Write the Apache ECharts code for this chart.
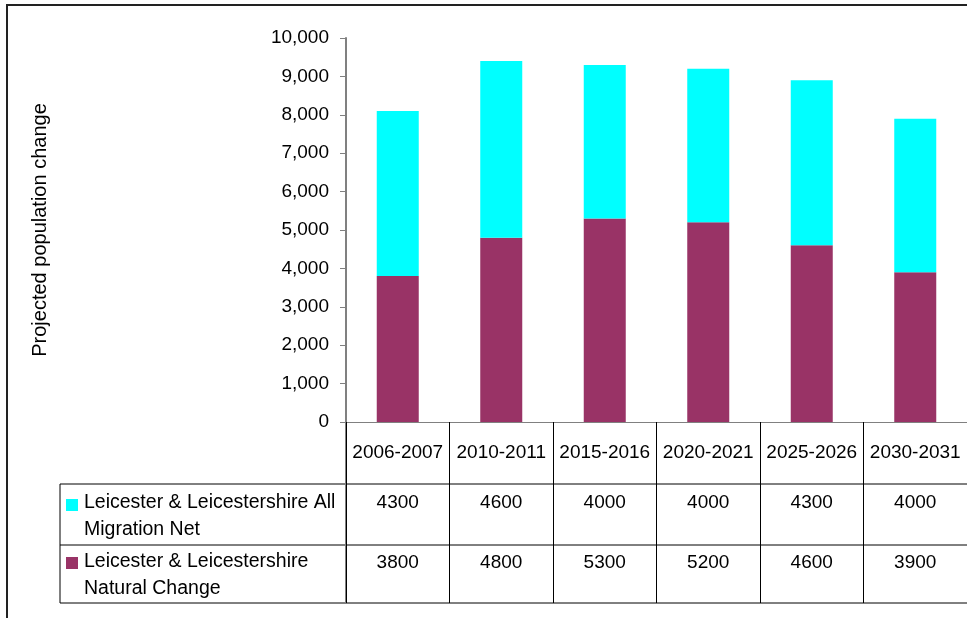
<!DOCTYPE html>
<html>
<head>
<meta charset="utf-8">
<script src="https://cdn.jsdelivr.net/npm/echarts@6/dist/echarts.min.js"></script>
<style>
html,body{margin:0;padding:0;background:#fff;}
#chart{width:967px;height:618px;}
</style>
</head>
<body>
<div id="chart"></div>
<script>
var categories = ['2006-2007','2010-2011','2015-2016','2020-2021','2025-2026','2030-2031'];
var migrationNet = [4300, 4600, 4000, 4000, 4300, 4000];
var naturalChange = [3800, 4800, 5300, 5200, 4600, 3900];
var seriesNames = ['Leicester & Leicestershire All\nMigration Net', 'Leicester & Leicestershire\nNatural Change'];
var yTicks = [0, 1000, 2000, 3000, 4000, 5000, 6000, 7000, 8000, 9000, 10000];

var FONT = '"Liberation Sans", Arial, sans-serif';
var FS = 19;
var COL_MIG = '#00FFFF';
var COL_NAT = '#993366';

var gridLeft = 346, gridTop = 38, gridW = 622, gridH = 384;
var axisY = gridTop + gridH; // 422
var rowY = [484, 545, 603];
var tableLeft = 60, tableRight = 968;

var chart = echarts.init(document.getElementById('chart'), null, {renderer: 'canvas'});

function fmt(v){ return String(v).replace(/\B(?=(\d{3})+(?!\d))/g, ','); }

var option = {
  backgroundColor: '#ffffff',
  animation: false,
  textStyle: {fontFamily: FONT},
  grid: {left: gridLeft, top: gridTop, width: gridW, height: gridH, containLabel: false},
  xAxis: {
    type: 'category',
    data: categories,
    boundaryGap: true,
    axisLine: {show: true, lineStyle: {color: '#808080', width: 1}},
    axisTick: {show: true, interval: 0, length: rowY[2] - axisY, lineStyle: {color: '#000', width: 1}},
    axisLabel: {
      interval: 0,
      margin: 0,
      color: '#000',
      fontFamily: FONT,
      fontSize: FS,
      formatter: function (v, i) {
        return '{c|' + v + '}\n{a|' + migrationNet[i] + '}\n{b|' + naturalChange[i] + '}';
      },
      rich: {
        c: {fontSize: FS, fontFamily: FONT, color: '#000', lineHeight: 62},
        a: {fontSize: FS, fontFamily: FONT, color: '#000', lineHeight: 37},
        b: {fontSize: FS, fontFamily: FONT, color: '#000', lineHeight: 83}
      }
    },
    splitLine: {show: false}
  },
  yAxis: {
    type: 'value',
    min: yTicks[0],
    max: yTicks[yTicks.length - 1],
    interval: 1000,
    name: 'Projected population change',
    nameLocation: 'middle',
    nameGap: 296,
    nameRotate: 90,
    nameTextStyle: {color: '#000', fontFamily: FONT, fontSize: 20},
    axisLine: {show: true, lineStyle: {color: '#808080', width: 2}},
    axisTick: {show: true, length: 6, lineStyle: {color: '#808080', width: 1}},
    axisLabel: {color: '#000', fontFamily: FONT, fontSize: FS, margin: 17, formatter: fmt},
    splitLine: {show: false}
  },
  series: [
    {
      name: 'Natural Change',
      type: 'bar',
      stack: 'total',
      barWidth: 42,
      data: naturalChange,
      itemStyle: {color: COL_NAT},
      z: 2
    },
    {
      name: 'Migration Net',
      type: 'bar',
      stack: 'total',
      barWidth: 42,
      data: migrationNet,
      itemStyle: {color: COL_MIG},
      z: 2
    }
  ],
  graphic: [
    {type: 'rect', shape: {x: 7, y: 5, width: 1000, height: 700}, style: {fill: null, stroke: '#222', lineWidth: 2}, silent: true},
    {type: 'line', shape: {x1: tableLeft, y1: rowY[0], x2: tableRight, y2: rowY[0]}, style: {stroke: '#000', lineWidth: 1}},
    {type: 'line', shape: {x1: tableLeft, y1: rowY[1], x2: tableRight, y2: rowY[1]}, style: {stroke: '#000', lineWidth: 1}},
    {type: 'line', shape: {x1: tableLeft, y1: rowY[2], x2: tableRight, y2: rowY[2]}, style: {stroke: '#000', lineWidth: 1}},
    {type: 'line', shape: {x1: tableLeft, y1: rowY[0], x2: tableLeft, y2: rowY[2]}, style: {stroke: '#000', lineWidth: 1}},
    {type: 'line', shape: {x1: gridLeft, y1: axisY, x2: gridLeft, y2: rowY[2]}, style: {stroke: '#808080', lineWidth: 2}},
    {type: 'rect', shape: {x: 66, y: 499, width: 12, height: 12}, style: {fill: COL_MIG}},
    {type: 'rect', shape: {x: 66, y: 557, width: 12, height: 12}, style: {fill: COL_NAT}},
    {type: 'text', x: 84, y: 489, style: {text: seriesNames[0], fill: '#000', font: '19.5px ' + FONT, lineHeight: 27}},
    {type: 'text', x: 84, y: 548, style: {text: seriesNames[1], fill: '#000', font: '19.5px ' + FONT, lineHeight: 27}}
  ]
};
chart.setOption(option);
</script>
</body>
</html>
